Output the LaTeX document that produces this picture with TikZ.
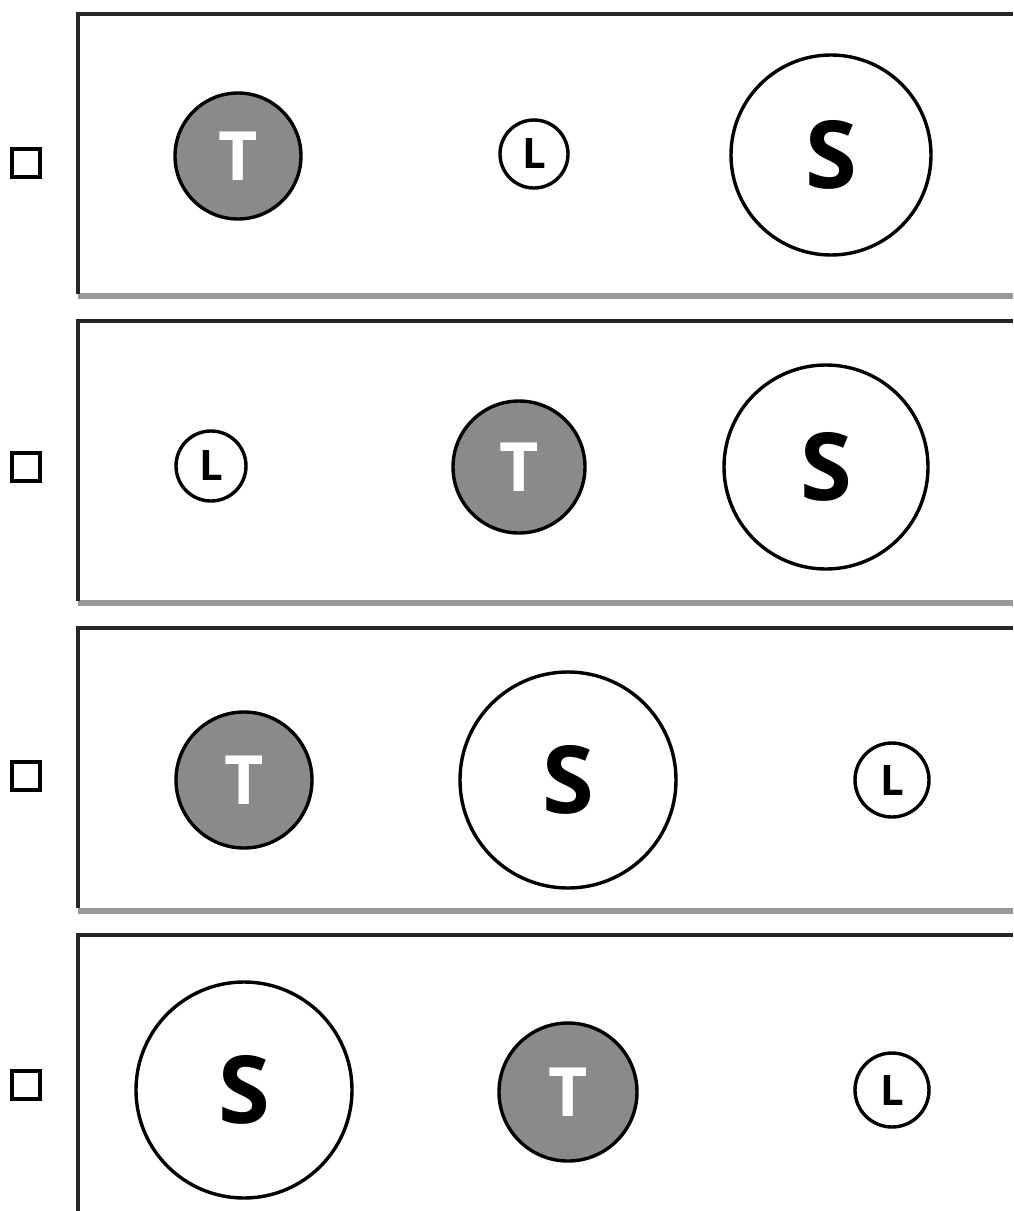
\documentclass[tikz,border=0pt]{standalone}
\usepackage{fontspec}
\newfontfamily\ballfont{Open Sans}
\definecolor{tgray}{gray}{0.54}
\definecolor{edgegray}{gray}{0.6}
\definecolor{topdark}{gray}{0.15}

\begin{document}
\begin{tikzpicture}[x=0.5pt,y=-0.5pt,
	ball/.style={circle,draw=black,line width=1.7pt,inner sep=0pt,minimum size=#1},
	tball/.style={ball=#1,fill=tgray,text=white,font=\ballfont\bfseries\fontsize{34}{34}\selectfont},
	lball/.style={ball=#1,fill=white,font=\ballfont\bfseries\fontsize{21}{21}\selectfont},
	sball/.style={ball=#1,fill=white,font=\ballfont\bfseries\fontsize{47}{47}\selectfont},
	tickbox/.style={draw,line width=1.7pt,inner sep=0pt,minimum size=14pt}]
	\useasboundingbox (0,0) rectangle (1013,1211);
	\clip (0,0) rectangle (1013,1211);
	% panels
	\foreach \b in {296,603,911}
		\draw[edgegray,line width=3pt] (78,\b) -- (1013,\b);
	\foreach \t in {14,321,628,935}
		\draw[topdark,line width=1.6pt] (1013,\t) -- (78,\t) -- (78,\t+280);
	% check boxes
	\node[tickbox] (box1) at (26,163) {};
	\node[tickbox] (box2) at (26,467) {};
	\node[tickbox] (box3) at (26,776) {};
	\node[tickbox] (box4) at (26,1085) {};
	% panel 1
	\node[tball=63pt] (t1) at (238,156) {T};
	\node[lball=34pt] (l1) at (534,154) {L};
	\node[sball=100pt] (s1) at (831,155) {S};
	% panel 2
	\node[lball=35pt] (l2) at (211,466) {L};
	\node[tball=66pt] (t2) at (519,467) {T};
	\node[sball=102pt] (s2) at (826,467) {S};
	% panel 3
	\node[tball=68pt] (t3) at (244,780) {T};
	\node[sball=108pt] (s3) at (568,780) {S};
	\node[lball=37pt] (l3) at (892,780) {L};
	% panel 4
	\node[sball=108pt] (s4) at (244,1090) {S};
	\node[tball=69pt] (t4) at (568,1092) {T};
	\node[lball=37pt] (l4) at (892,1090) {L};
\end{tikzpicture}
\end{document}
